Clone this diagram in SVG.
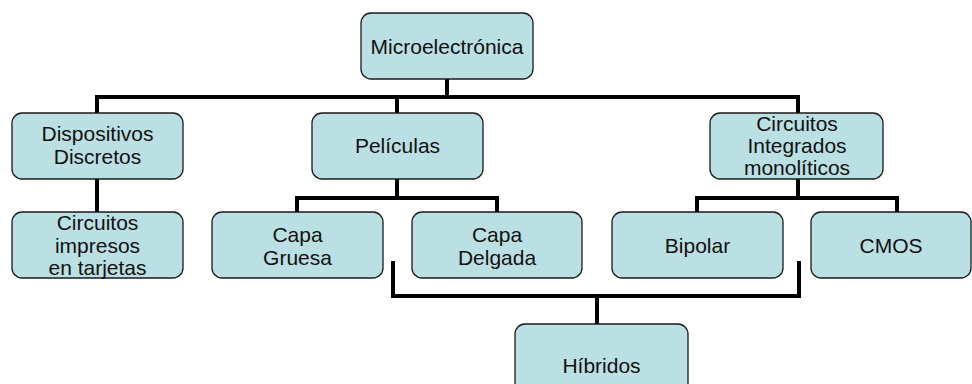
<svg xmlns="http://www.w3.org/2000/svg" width="972" height="384" viewBox="0 0 972 384">
<style>
.box{fill:#BBE0E3;stroke:#1a1a1a;stroke-width:1.3}
.t{font-family:"Liberation Sans",Arial,sans-serif;font-size:21px;fill:#111;text-anchor:middle}
.c{fill:none;stroke:#000;stroke-width:4;stroke-linejoin:miter;stroke-linecap:butt}
</style>
<rect width="972" height="384" fill="#fff"/>
<g id="connectors">
<path class="c" d="M447 79V97"/>
<path class="c" d="M97 113V97H798V113"/>
<path class="c" d="M397 97V113"/>
<path class="c" d="M97 179V212"/>
<path class="c" d="M397 179V198"/>
<path class="c" d="M297 212V198H497V212"/>
<path class="c" d="M798 179V198"/>
<path class="c" d="M697 212V198H897V212"/>
<path class="c" d="M393 261V296H799V261"/>
<path class="c" d="M597 296V324"/>
</g>
<g id="microelectronica">
<rect class="box" x="361" y="13" width="172" height="66" rx="10"/>
<text class="t" x="447" y="54">Microelectrónica</text>
</g>
<g id="dispositivos">
<rect class="box" x="12" y="113" width="171" height="66" rx="10"/>
<text class="t" x="97.5" y="141">Dispositivos</text>
<text class="t" x="97.5" y="164">Discretos</text>
</g>
<g id="peliculas">
<rect class="box" x="312" y="113" width="171" height="66" rx="10"/>
<text class="t" x="397.5" y="153">Películas</text>
</g>
<g id="circuitos-integrados">
<rect class="box" x="710" y="113" width="173" height="66" rx="10"/>
<text class="t" x="797" y="131">Circuitos</text>
<text class="t" x="797" y="153">Integrados</text>
<text class="t" x="797" y="175">monolíticos</text>
</g>
<g id="circuitos-impresos">
<rect class="box" x="12" y="212" width="171" height="66" rx="10"/>
<text class="t" x="97.5" y="230">Circuitos</text>
<text class="t" x="97.5" y="253">impresos</text>
<text class="t" x="97.5" y="275">en tarjetas</text>
</g>
<g id="capa-gruesa">
<rect class="box" x="212" y="212" width="171" height="66" rx="10"/>
<text class="t" x="297.5" y="242">Capa</text>
<text class="t" x="297.5" y="265">Gruesa</text>
</g>
<g id="capa-delgada">
<rect class="box" x="412" y="212" width="170" height="66" rx="10"/>
<text class="t" x="497" y="242">Capa</text>
<text class="t" x="497" y="265">Delgada</text>
</g>
<g id="bipolar">
<rect class="box" x="612" y="212" width="171" height="66" rx="10"/>
<text class="t" x="697.5" y="253">Bipolar</text>
</g>
<g id="cmos">
<rect class="box" x="811" y="212" width="160" height="66" rx="10"/>
<text class="t" x="891" y="253">CMOS</text>
</g>
<g id="hibridos">
<rect class="box" x="515" y="324" width="173" height="72" rx="10"/>
<text class="t" x="601.5" y="373">Híbridos</text>
</g>
</svg>
